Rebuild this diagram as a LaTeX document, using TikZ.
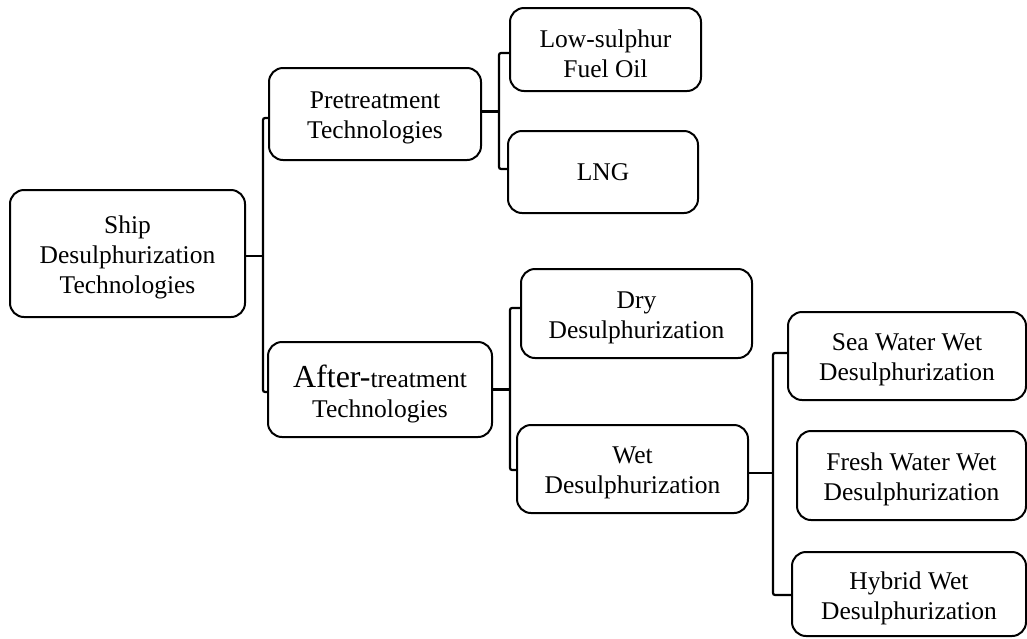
\documentclass[tikz,border=0pt]{standalone}
\usepackage{fontspec}
\setmainfont{Liberation Serif}
\begin{document}
\begin{tikzpicture}[x=1pt,y=-1pt,
  box/.style={draw=black, line width=2pt, rounded corners=14pt, inner sep=0pt},
  lbl/.style={align=center, inner sep=0pt, yshift=-4pt, font=\fontsize{25.5}{30}\selectfont},
  conn/.style={draw=black, line width=2.2pt, rounded corners=2pt}]
\useasboundingbox (0,0) rectangle (1027,638);
\node[box, minimum width=235pt, minimum height=127pt, label={[lbl]center:{Ship\\Desulphurization\\Technologies}}] (ship) at (127.5,253.5) {};
\node[box, minimum width=212pt, minimum height=92pt, label={[lbl]center:{Pretreatment\\Technologies}}] (pre) at (375,114) {};
\node[box, minimum width=191pt, minimum height=83pt, label={[lbl]center:{Low-sulphur\\Fuel Oil}}] (lso) at (605.5,49.5) {};
\node[box, minimum width=190pt, minimum height=82pt, label={[lbl, yshift=4pt]center:{LNG}}] (lng) at (603,172) {};
\node[box, minimum width=224pt, minimum height=95pt, label={[lbl]center:{{\fontsize{32}{30}\selectfont After-}treatment\\Technologies}}] (after) at (380,389.5) {};
\node[box, minimum width=231pt, minimum height=89pt, label={[lbl]center:{Dry\\Desulphurization}}] (dry) at (636.5,313.5) {};
\node[box, minimum width=231pt, minimum height=88pt, label={[lbl]center:{Wet\\Desulphurization}}] (wet) at (632.5,469) {};
\node[box, minimum width=238pt, minimum height=88pt, label={[lbl]center:{Sea Water Wet\\Desulphurization}}] (sea) at (907,356) {};
\node[box, minimum width=229pt, minimum height=89pt, label={[lbl]center:{Fresh Water Wet\\Desulphurization}}] (fresh) at (911.5,475.5) {};
\node[box, minimum width=234pt, minimum height=84pt, label={[lbl]center:{Hybrid Wet\\Desulphurization}}] (hybrid) at (909,594) {};
% connectors
\draw[conn] ([yshift=-2.5pt]ship.east) -- ++(17,0) coordinate (j1);
\draw[conn] ([yshift=-4pt]pre.west) -| (j1) |- ([yshift=-2.5pt]after.west);
\draw[conn] ([yshift=2.5pt]pre.east) -- ++(17,0) coordinate (j2);
\draw[conn] ([yshift=-3.5pt]lso.west) -| (j2) |- ([yshift=3pt]lng.west);
\draw[conn] (after.east) -- ++(17,0) coordinate (j3);
\draw[conn] ([yshift=5.5pt]dry.west) -| (j3) |- ([yshift=-1pt]wet.west);
\draw[conn] ([yshift=-4pt]wet.east) -- ++(24,0) coordinate (j4);
\draw[conn] ([yshift=3pt]sea.west) -| (j4) |- ([yshift=-1pt]hybrid.west);
\end{tikzpicture}
\end{document}
